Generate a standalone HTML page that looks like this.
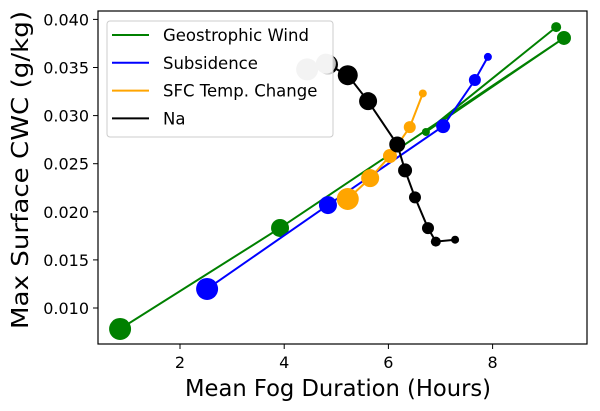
<!DOCTYPE html>
<html><head><meta charset="utf-8"><style>
body{margin:0;background:#fff}
svg{display:block;font-family:"DejaVu Sans","Liberation Sans",sans-serif}
</style></head><body>
<svg id="c" width="600" height="411">
<rect x="0" y="0" width="600" height="411" fill="#fff"/>
<g id="marks"></g>
<g id="axes"></g>
</svg>
<script>
const geoX=[0.85,3.92,9.37,6.72,9.22];
const geoY=[0.00782,0.01832,0.03807,0.0283,0.0392];
const geoR=[11,9,7,4,5];
const subX=[2.52,4.84,7.05,7.66,7.91];
const subY=[0.01198,0.0207,0.0289,0.0337,0.0361];
const subR=[11,9,7,6,4];
const sfcX=[5.22,5.65,6.03,6.41,6.66];
const sfcY=[0.02133,0.0235,0.0258,0.0288,0.0323];
const sfcR=[11,9,7,6,4];
const naX=[4.84,5.22,5.61,6.17,6.32,6.51,6.76,6.91,7.28];
const naY=[0.0353,0.0342,0.0315,0.0270,0.0243,0.0215,0.0183,0.0169,0.0171];
const naR=[10,10,9,8,7,6,6,5,4];
const grayX=[4.44,4.80];
const grayY=[0.0348,0.0354];
const grayR=[11,10];
const xTicks=[2,4,6,8];
const yTicks=[0.010,0.015,0.020,0.025,0.030,0.035,0.040];
const legendLabels=["Geostrophic Wind","Subsidence","SFC Temp. Change","Na"];
const legendColors=["green","blue","orange","black"];

const NS="http://www.w3.org/2000/svg";
const L=98,R=587,T=11,B=344;
const sx=v=>75.8+v*52.1;
const sy=v=>308-(v-0.010)*9620;
const marks=document.getElementById('marks'), axes=document.getElementById('axes');
function mk(tag,attrs,parent){const e=document.createElementNS(NS,tag);for(const k in attrs)e.setAttribute(k,attrs[k]);parent.appendChild(e);return e;}
function series(xs,ys,rs,color,name,line){
  if(line){
    const p=mk('polyline',{points:xs.map((x,i)=>sx(x)+','+sy(ys[i])).join(' '),fill:'none',stroke:color,'stroke-width':2},marks);
    
    
  }
  xs.forEach((x,i)=>{
    const c=mk('circle',{cx:sx(x),cy:sy(ys[i]),r:rs[i],fill:color},marks);
    
    
  });
}
series(geoX,geoY,geoR,'green','geostrophic-wind',true);
series(subX,subY,subR,'blue','subsidence',true);
series(sfcX,sfcY,sfcR,'orange','sfc-temp-change',true);
series(naX,naY,naR,'black','na',true);
const lg=mk('g',{},axes);


mk('rect',{x:107,y:21,width:226,height:116,rx:3,fill:'rgba(255,255,255,0.8)',stroke:'#ccc'},lg);
legendLabels.forEach((t,i)=>{
  const y=35+i*27.8;
  const ln=mk('line',{x1:112,x2:149,y1:y,y2:y,stroke:legendColors[i],'stroke-width':2},lg);
  
  
  const tx=mk('text',{x:163,y:y+6,'font-size':16.5,fill:'#000'},lg);
  tx.textContent=t;
  
  
});
series(grayX,grayY,grayR,'#c2c2c2','gray',false);
const fr=mk('rect',{x:L,y:T,width:R-L,height:B-T,fill:'none',stroke:'#000','stroke-width':1.2},axes);


xTicks.forEach(v=>{
  mk('line',{x1:sx(v),x2:sx(v),y1:B,y2:B+5,stroke:'#000'},axes);
  const t=mk('text',{x:sx(v),y:B+24,'font-size':16,'text-anchor':'middle'},axes);
  t.textContent=v;
  
  
});
yTicks.forEach(v=>{
  mk('line',{x1:L-5,x2:L,y1:sy(v),y2:sy(v),stroke:'#000'},axes);
  const t=mk('text',{x:L-9,y:sy(v)+6,'font-size':16,'text-anchor':'end'},axes);
  t.textContent=v.toFixed(3);
  
  
});
const xl=mk('text',{x:338,y:396,'font-size':23,'text-anchor':'middle',textLength:306,lengthAdjust:'spacingAndGlyphs'},axes);
xl.textContent='Mean Fog Duration (Hours)';


const yl=mk('text',{x:0,y:0,'font-size':23,'text-anchor':'middle',textLength:318,lengthAdjust:'spacingAndGlyphs',transform:'translate(28,170) rotate(-90)'},axes);
yl.textContent='Max Surface CWC (g/kg)';


</script>
</body></html>
